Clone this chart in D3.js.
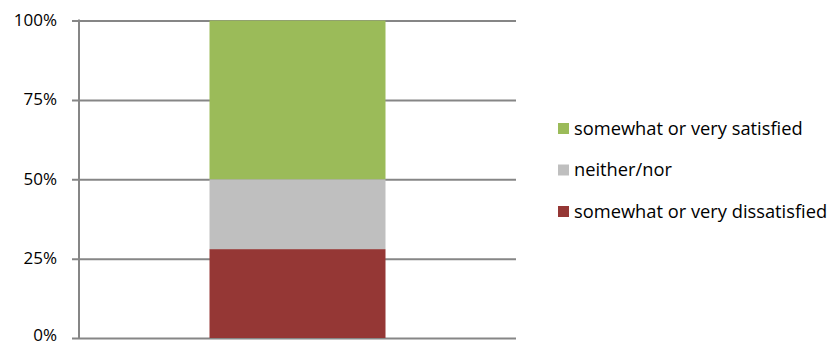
<!DOCTYPE html>
<html>
<head>
<meta charset="utf-8">
<script src="https://cdn.jsdelivr.net/npm/d3@7"></script>
<style>
  html, body { margin: 0; padding: 0; background: #fff; }
  svg { display: block; }
  text { font-family: "Open Sans", Lato, sans-serif; fill: #000; font-variant-ligatures: none; }
</style>
</head>
<body>
<svg id="chart" width="839" height="346"></svg>
<script>
// Share of respondents by satisfaction level (single stacked column)
const categories = [""];
const seriesNames = ["somewhat or very dissatisfied", "neither/nor", "somewhat or very satisfied"];
const seriesValues = [0.28, 0.22, 0.50];
const seriesColors = ["#953735", "#BFBFBF", "#9BBB59"];
const tickValues = [0, 0.25, 0.5, 0.75, 1];
const tickLabels = ["0%", "25%", "50%", "75%", "100%"];

const svg = d3.select("#chart");
const plot = { left: 79, right: 516, top: 20.5, bottom: 338 };

const y = d3.scaleLinear().domain([0, 1]).range([plot.bottom, plot.top]);
const x = d3.scaleBand().domain(categories).range([plot.left, plot.right])
  .paddingInner(0).paddingOuter(0.7415);

// Horizontal gridlines with tick labels
const yAxis = d3.axisLeft(y)
  .tickValues(tickValues)
  .tickFormat((d, i) => tickLabels[i])
  .tickSize(-(plot.right - plot.left))
  .tickPadding(0);

const gAxis = svg.append("g")
  .attr("transform", `translate(${plot.left},0)`)
  .call(yAxis);
gAxis.select(".domain").remove();
gAxis.selectAll(".tick line")
  .attr("x1", -7)
  .attr("stroke", "#868686")
  .attr("stroke-width", 2);
gAxis.selectAll(".tick text")
  .attr("x", -22)
  .attr("dy", d => d === 0 ? "0.15em" : "0.3em") // keep the bottom label inside the frame
  .attr("font-size", 17)
  .attr("fill", "#000")
  .style("font-family", "'Open Sans', Lato, sans-serif");

// Stacked segments
const stackData = [Object.fromEntries(seriesNames.map((n, i) => [n, seriesValues[i]]))];
const stacked = d3.stack().keys(seriesNames)(stackData);

svg.append("g").selectAll("rect")
  .data(stacked)
  .join("rect")
  .attr("x", x(categories[0]))
  .attr("width", x.bandwidth())
  .attr("y", d => y(d[0][1]))
  .attr("height", d => y(d[0][0]) - y(d[0][1]))
  .attr("fill", (d, i) => seriesColors[i]);

// Vertical axis line
svg.append("line")
  .attr("x1", plot.left).attr("x2", plot.left)
  .attr("y1", plot.top - 1).attr("y2", plot.bottom + 1)
  .attr("stroke", "#868686")
  .attr("stroke-width", 2);

// Legend (satisfied on top)
const legendOrder = [2, 1, 0];
const legendY = d3.scalePoint().domain(legendOrder).range([128.5, 211.5]);
const legend = svg.append("g").selectAll("g")
  .data(legendOrder)
  .join("g")
  .attr("transform", d => `translate(558,${legendY(d)})`);
legend.append("rect")
  .attr("x", 0).attr("y", -5.5)
  .attr("width", 11).attr("height", 11)
  .attr("fill", d => seriesColors[d]);
legend.append("text")
  .attr("x", 16)
  .attr("dy", "0.35em")
  .attr("font-size", 18.3)
  .text(d => seriesNames[d]);
</script>
</body>
</html>
